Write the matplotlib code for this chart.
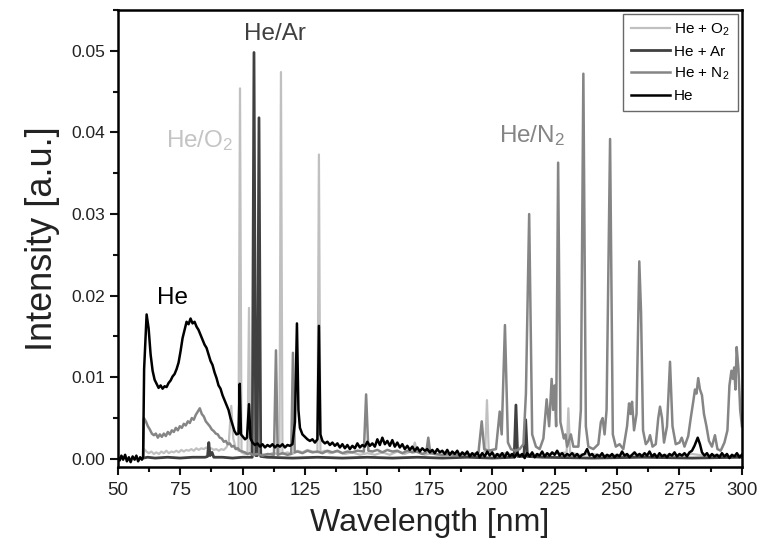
import matplotlib
matplotlib.use("Agg")
import matplotlib.pyplot as plt
from matplotlib.ticker import MultipleLocator, FormatStrFormatter

plt.rcParams['font.family'] = ['Liberation Sans', 'DejaVu Sans']
plt.rcParams['mathtext.fontset'] = 'custom'
plt.rcParams['mathtext.rm'] = 'Liberation Sans'
plt.rcParams['mathtext.default'] = 'regular'

# spectra: (wavelength nm, intensity a.u.)
he = [
    (50, 0.0003), (50.8, -0.0002), (51.5, 0.0004), (52.2, -0.0001), (53, 0.0005), (53.7, -0.0003),
    (54.5, 0.0002), (55.2, -0.0004), (56, 0.0003), (56.8, -0.0001), (57.5, 0.0004), (58.2, -0.0003),
    (59, 0.0002), (59.7, -0.0001), (60.2, 0.0002),
    (60.6, 0.0110), (61.6, 0.0177), (62.4, 0.0160), (63.2, 0.0128), (64.0, 0.0108), (64.8, 0.0097),
    (65.6, 0.0092), (66.4, 0.0087), (67.2, 0.0090), (68.0, 0.0086), (68.8, 0.0089), (69.6, 0.0088),
    (70.4, 0.0093), (71.2, 0.0096), (72.0, 0.0101), (72.8, 0.0104), (73.6, 0.0110), (74.4, 0.0118),
    (75.2, 0.0132), (76.0, 0.0148), (76.8, 0.0158), (77.6, 0.0168), (78.4, 0.0165), (79.2, 0.0172),
    (80.0, 0.0166), (80.8, 0.0168), (81.6, 0.0162), (82.4, 0.0158), (83.2, 0.0152), (84.0, 0.0146),
    (84.8, 0.0140), (85.6, 0.0136), (86.4, 0.0128), (87.2, 0.0120), (88.0, 0.0115), (88.8, 0.0106),
    (89.6, 0.0099), (90.4, 0.0090), (91.2, 0.0086), (92.0, 0.0078), (92.8, 0.0072), (93.6, 0.0066),
    (94.4, 0.0060), (95.2, 0.0050), (96.0, 0.0042), (96.8, 0.0034), (97.6, 0.0030), (98.4, 0.0031),
    (98.9, 0.0092), (99.4, 0.0030), (100.2, 0.0027), (101.0, 0.0024), (101.8, 0.0026), (102.6, 0.0067),
    (103.2, 0.0025), (104.0, 0.0020), (105, 0.0017), (106, 0.0019), (107, 0.0015), (108, 0.0018),
    (109, 0.0014), (110, 0.0017), (111, 0.0015), (112, 0.0018), (113, 0.0014), (114, 0.0017),
    (115, 0.0015), (116, 0.0018), (117, 0.0014), (118, 0.0017), (119, 0.0016), (120, 0.0018),
    (121.0, 0.0045), (121.8, 0.0166), (122.4, 0.0060), (123.0, 0.0038), (124, 0.0030), (125, 0.0027),
    (126, 0.0024), (127, 0.0022), (128, 0.0024), (129, 0.0020), (130.0, 0.0024), (130.6, 0.0163),
    (131.2, 0.0030), (132, 0.0022), (133, 0.0019), (134, 0.0021), (135, 0.0017), (136, 0.0020),
    (137, 0.0016), (138, 0.0019), (139, 0.0014), (140, 0.0018), (141, 0.0013), (142, 0.0017),
    (143, 0.0012), (144, 0.0016), (145, 0.0013), (146, 0.0019), (147, 0.0014), (148, 0.0017),
    (149, 0.0015), (150, 0.0021), (151, 0.0016), (152, 0.0019), (153, 0.0015), (154, 0.0024),
    (155, 0.0017), (156, 0.0026), (157, 0.0018), (158, 0.0022), (159, 0.0016), (160, 0.0023),
    (161, 0.0015), (162, 0.0020), (163, 0.0014), (164, 0.0018), (165, 0.0012), (166, 0.0016),
    (167, 0.0011), (168, 0.0015), (169, 0.0010), (170, 0.0014), (171, 0.0009), (172, 0.0013),
    (173, 0.0010), (174, 0.0012), (175, 0.0008), (176, 0.0011), (177, 0.0007), (178, 0.0012),
    (179, 0.0008), (180, 0.0010), (181, 0.0006), (182, 0.0011), (183, 0.0005), (184, 0.0009),
    (185, 0.0006), (186, 0.0010), (187, 0.0004), (188, 0.0008), (189, 0.0005), (190, 0.0009),
    (191, 0.0003), (192, 0.0007), (193, 0.0004), (194, 0.0008), (195, 0.0002), (196, 0.0007),
    (197, 0.0003), (198, 0.0009), (199, 0.0004), (200, 0.0008), (201, 0.0002), (202, 0.0006),
    (203, 0.0003), (204, 0.0007), (205, 0.0002), (206, 0.0008), (207, 0.0003), (208, 0.0006),
    (209, 0.0002), (210, 0.0007), (211, 0.0003), (212, 0.0006), (213, 0.0001), (214, 0.0007),
    (215, 0.0003), (216, 0.0008), (217, 0.0002), (218, 0.0006), (219, 0.0004), (220, 0.0009),
    (221, 0.0003), (222, 0.0007), (223, 0.0004), (224, 0.0008), (225, 0.0005), (226, 0.0010),
    (227, 0.0004), (228, 0.0007), (229, 0.0003), (230, 0.0006), (231, 0.0004), (232, 0.0007),
    (233, 0.0003), (234, 0.0006), (235, 0.0002), (236, 0.0005), (237, 0.0006), (238, 0.0012),
    (239, 0.0004), (240, 0.0006), (241, 0.0002), (242, 0.0005), (243, 0.0003), (244, 0.0007),
    (245, 0.0002), (246, 0.0005), (247, 0.0003), (248, 0.0006), (249, 0.0002), (250, 0.0005),
    (251, 0.0003), (252, 0.0009), (253, 0.0004), (254, 0.0006), (255, 0.0002), (256, 0.0005),
    (257, 0.0008), (258, 0.0004), (259, 0.0006), (260, 0.0003), (261, 0.0007), (262, 0.0004),
    (263, 0.0009), (264, 0.0003), (265, 0.0006), (266, 0.0002), (267, 0.0007), (268, 0.0003),
    (269, 0.0005), (270, 0.0002), (271, 0.0006), (272, 0.0004), (273, 0.0008), (274, 0.0003),
    (275, 0.0006), (276, 0.0004), (277, 0.0007), (278, 0.0003), (279, 0.0008), (280, 0.0010),
    (281, 0.0016), (282.3, 0.0026), (283.2, 0.0018), (284, 0.0008), (285, 0.0004), (286, 0.0007),
    (287, 0.0002), (288, 0.0006), (289, 0.0003), (290, 0.0005), (291, 0.0002), (292, 0.0007),
    (293, 0.0003), (294, 0.0006), (295, 0.0001), (296, 0.0005), (297, 0.0003), (298, 0.0007),
    (299, 0.0002), (300, 0.0005),
]

he_n2 = [
    (60.2, 0.0002), (60.5, 0.0050), (61.3, 0.0046), (62.1, 0.0040), (62.9, 0.0036), (63.7, 0.0031),
    (64.5, 0.0029), (65.3, 0.0031), (66.1, 0.0026), (66.9, 0.0030), (67.7, 0.0027), (68.5, 0.0031),
    (69.3, 0.0028), (70.1, 0.0033), (70.9, 0.0030), (71.7, 0.0035), (72.5, 0.0033), (73.3, 0.0038),
    (74.1, 0.0035), (74.9, 0.0040), (75.7, 0.0038), (76.5, 0.0043), (77.3, 0.0041), (78.1, 0.0046),
    (78.9, 0.0044), (79.7, 0.0050), (80.5, 0.0048), (81.3, 0.0054), (82.1, 0.0058), (82.9, 0.0062),
    (83.7, 0.0055), (84.5, 0.0052), (85.3, 0.0046), (86.1, 0.0043), (86.9, 0.0040), (87.7, 0.0036),
    (88.5, 0.0034), (89.3, 0.0031), (90.1, 0.0030), (90.9, 0.0026), (91.7, 0.0025), (92.5, 0.0021),
    (93.3, 0.0022), (94.1, 0.0018), (94.9, 0.0019), (95.7, 0.0015), (96.5, 0.0016), (97.3, 0.0012),
    (98.1, 0.0013), (99, 0.0010), (100, 0.0009), (101, 0.0008), (102, 0.0006), (103, 0.0007),
    (104, 0.0005), (106, 0.0006), (108, 0.0004), (110, 0.0006), (112.6, 0.0005), (113.4, 0.0133),
    (114.1, 0.0005), (116, 0.0007), (118, 0.0005), (119.5, 0.0006), (120.2, 0.0130), (120.9, 0.0008),
    (122, 0.0009), (124, 0.0007), (126, 0.0010), (128, 0.0008), (130, 0.0009), (132, 0.0007),
    (134, 0.0010), (136, 0.0008), (138, 0.0010), (140, 0.0007), (142, 0.0009), (144, 0.0008),
    (146, 0.0010), (148.6, 0.0009), (149.5, 0.0079), (150.4, 0.0010), (152, 0.0009), (154, 0.0011),
    (156, 0.0008), (158, 0.0011), (160, 0.0009), (162, 0.0010), (164, 0.0007), (166, 0.0010),
    (168, 0.0008), (170, 0.0009), (172, 0.0006), (173.6, 0.0008), (174.4, 0.0026), (175.2, 0.0007),
    (177, 0.0006), (180, 0.0005), (183, 0.0006), (186, 0.0004), (189, 0.0006), (192, 0.0005),
    (194.5, 0.0008), (195.8, 0.0046), (196.8, 0.0012), (198.5, 0.0010), (201.5, 0.0012), (203.0, 0.0058),
    (203.8, 0.0030), (205.1, 0.0164), (206.3, 0.0020), (207.5, 0.0012), (209, 0.0010), (211, 0.0012),
    (212.5, 0.0018), (213.5, 0.0080), (214.8, 0.0300), (216.0, 0.0030), (217.5, 0.0015), (219, 0.0012),
    (220.5, 0.0025), (221.8, 0.0073), (222.8, 0.0040), (223.8, 0.0098), (224.4, 0.0060), (225.0, 0.0090),
    (225.6, 0.0040), (226.4, 0.0363), (227.3, 0.0045), (228.0, 0.0035), (228.7, 0.0025), (229.3, 0.0030),
    (230, 0.0015), (231.5, 0.0030), (232.5, 0.0015), (234.5, 0.0015), (235.5, 0.0060), (236.5, 0.0472),
    (237.5, 0.0040), (238.5, 0.0015), (240.5, 0.0012), (242.5, 0.0018), (243.5, 0.0045), (244.2, 0.0050),
    (245.0, 0.0030), (245.8, 0.0060), (247.2, 0.0392), (248.3, 0.0030), (249.5, 0.0015), (251, 0.0018),
    (252.5, 0.0012), (254.0, 0.0040), (254.8, 0.0068), (255.4, 0.0055), (256.0, 0.0070), (256.8, 0.0035),
    (257.8, 0.0055), (258.9, 0.0242), (259.6, 0.0180), (260.4, 0.0035), (261.5, 0.0018), (262.5, 0.0022),
    (263.2, 0.0029), (264.2, 0.0015), (265.5, 0.0018), (266.5, 0.0050), (267.2, 0.0064), (268.0, 0.0050),
    (268.8, 0.0020), (270.0, 0.0040), (271.2, 0.0119), (272.2, 0.0040), (273.5, 0.0018), (275.0, 0.0020),
    (275.9, 0.0026), (277.0, 0.0015), (278.5, 0.0028), (279.5, 0.0050), (280.5, 0.0070), (281.2, 0.0085),
    (281.8, 0.0080), (282.5, 0.0099), (283.2, 0.0085), (284.0, 0.0078), (284.8, 0.0055), (285.8, 0.0040),
    (286.8, 0.0022), (288.0, 0.0015), (289.2, 0.0029), (290.2, 0.0012), (291.5, 0.0010), (293.0, 0.0020),
    (294.2, 0.0035), (295.0, 0.0090), (295.8, 0.0108), (296.4, 0.0098), (296.9, 0.0112), (297.4, 0.0085),
    (297.9, 0.0137), (298.6, 0.0110), (299.3, 0.0060), (300, 0.0040),
]

he_ar = [
    (60.2, 0.0001), (62, 0.0002), (65, 0.0001), (70, 0.0002), (75, 0.0001), (80, 0.0002),
    (85, 0.0002), (86.0, 0.0003), (86.5, 0.0020), (87.0, 0.0004), (87.8, 0.0008), (88.5, 0.0002),
    (92, 0.0002), (96, 0.0001), (100, 0.0002), (103.9, 0.0002), (104.6, 0.0498), (105.3, 0.0004),
    (105.9, 0.0004), (106.6, 0.0418), (107.3, 0.0003), (110, 0.0002), (120, 0.0001), (130, 0.0002),
    (140, 0.0001), (150, 0.0002), (160, 0.0001), (170, 0.0002), (180, 0.0001), (190, 0.0002),
    (200, 0.0001), (208.8, 0.0002), (209.5, 0.0066), (210.2, 0.0003), (212.7, 0.0003), (213.4, 0.0048),
    (214.1, 0.0003), (220, 0.0002), (240, 0.0001), (260, 0.0002), (280, 0.0001), (300, 0.0002),
]

he_o2 = [
    (60.2, 0.0001), (60.6, 0.0012), (61.5, 0.0009), (62.5, 0.0007), (63.5, 0.0009), (64.5, 0.0006),
    (65.5, 0.0008), (66.5, 0.0006), (67.5, 0.0009), (68.5, 0.0007), (69.5, 0.0010), (70.5, 0.0007),
    (71.5, 0.0009), (72.5, 0.0008), (73.5, 0.0010), (74.5, 0.0008), (75.5, 0.0011), (76.5, 0.0009),
    (77.5, 0.0011), (78.5, 0.0010), (79.5, 0.0012), (80.5, 0.0010), (81.5, 0.0013), (82.5, 0.0011),
    (83.5, 0.0013), (84.5, 0.0012), (85.5, 0.0014), (86.5, 0.0012), (87.5, 0.0013), (88.5, 0.0011),
    (89.5, 0.0012), (90.5, 0.0010), (91.5, 0.0012), (92.5, 0.0011), (93.5, 0.0014), (94.5, 0.0020),
    (95.5, 0.0065), (96.3, 0.0025), (97.2, 0.0014), (98.4, 0.0010), (99.0, 0.0454), (99.6, 0.0008),
    (101, 0.0006), (102.0, 0.0007), (102.6, 0.0185), (103.2, 0.0006), (104.5, 0.0005), (107, 0.0006),
    (110, 0.0005), (112, 0.0007), (114.8, 0.0006), (115.4, 0.0474), (116.0, 0.0006), (118, 0.0008),
    (120, 0.0006), (122, 0.0010), (124, 0.0008), (126, 0.0011), (128, 0.0009), (130.0, 0.0008),
    (130.6, 0.0373), (131.2, 0.0008), (133, 0.0010), (135, 0.0007), (138, 0.0009), (141, 0.0006),
    (144, 0.0008), (147, 0.0005), (150, 0.0007), (153, 0.0005), (156, 0.0008), (159, 0.0005),
    (162, 0.0009), (165, 0.0006), (168, 0.0010), (169, 0.0020), (170, 0.0008), (173, 0.0005),
    (176, 0.0007), (180, 0.0004), (184, 0.0006), (188, 0.0004), (192, 0.0005), (195, 0.0004),
    (197.2, 0.0010), (197.9, 0.0072), (198.6, 0.0010), (201, 0.0005), (205, 0.0007), (210, 0.0005),
    (215, 0.0006), (220, 0.0004), (224, 0.0006), (229.8, 0.0008), (230.5, 0.0062), (231.2, 0.0008),
    (235, 0.0005), (240, 0.0006), (245, 0.0004), (250, 0.0005), (255, 0.0004), (260, 0.0005),
    (265, 0.0003), (270, 0.0005), (275, 0.0004), (280, 0.0006), (285, 0.0004), (290, 0.0005),
    (295, 0.0003), (300, 0.0005),
]

labels = ["He + O$_2$", "He + Ar", "He + N$_2$", "He"]
colors = ['#c0c0c0', '#404040', '#858585', '#000000']
widths = [1.6, 2.0, 1.8, 1.8]

fig = plt.figure(figsize=(7.59, 5.58), dpi=100)
ax = fig.add_axes([0.155, 0.163, 0.8225, 0.819])

for pts, lab, c, w in zip([he_o2, he_ar, he_n2, he], labels, colors, widths):
    xs = [p[0] for p in pts]
    ys = [p[1] for p in pts]
    ax.plot(xs, ys, color=c, lw=w, label=lab)

ax.set_xlim(50, 300)
ax.set_ylim(-0.001, 0.055)
ax.xaxis.set_major_locator(MultipleLocator(25))
ax.xaxis.set_minor_locator(MultipleLocator(12.5))
ax.yaxis.set_major_locator(MultipleLocator(0.01))
ax.yaxis.set_minor_locator(MultipleLocator(0.005))
ax.yaxis.set_major_formatter(FormatStrFormatter('%.2f'))
ax.tick_params(which='major', direction='out', length=6, width=1.5, color='#111111')
ax.tick_params(which='minor', direction='out', length=3.5, width=1.5, color='#111111')
ax.tick_params(axis='x', which='major', labelsize=13.5, pad=5, labelcolor='#222222')
ax.tick_params(axis='y', which='major', labelsize=12.5, pad=3, labelcolor='#222222')
for s in ax.spines.values():
    s.set_linewidth(1.8)

ax.set_xlabel('Wavelength [nm]', fontsize=23, labelpad=6, color='#222222')
ax.set_ylabel('Intensity [a.u.]', fontsize=26, labelpad=8, color='#222222')

ax.text(113, 0.0521, 'He/Ar', color='#404040', fontsize=17.5, ha='center', va='center')
ax.text(83, 0.0390, 'He/O$_2$', color='#c4c4c4', fontsize=17.5, ha='center', va='center')
ax.text(216, 0.0396, 'He/N$_2$', color='#858585', fontsize=17.5, ha='center', va='center')
ax.text(72, 0.0197, 'He', color='#000000', fontsize=17.5, ha='center', va='center')

leg = ax.legend(loc='upper right', fontsize=11, fancybox=False, edgecolor='#444444',
                handlelength=2.6, handletextpad=0.25, borderaxespad=0.25, labelspacing=0.45,
                borderpad=0.5)
leg.get_frame().set_linewidth(1.0)

fig.savefig('out.png', dpi=100)
